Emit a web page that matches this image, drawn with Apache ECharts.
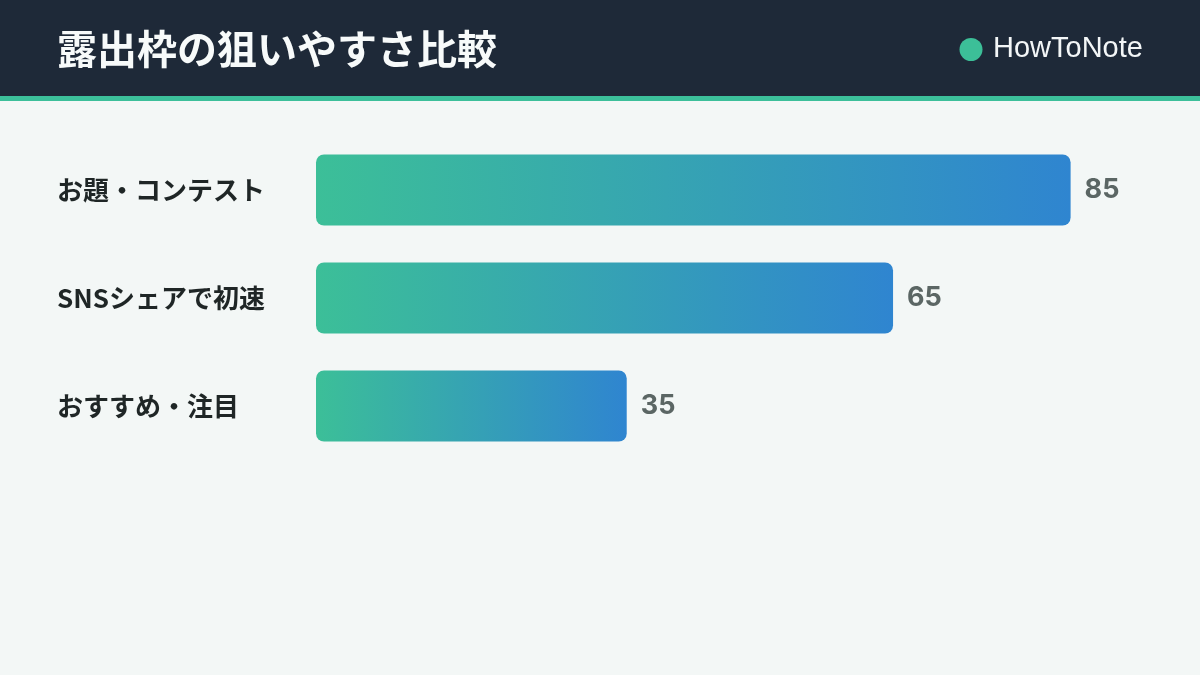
<!DOCTYPE html>
<html>
<head>
<meta charset="utf-8">
<script src="https://cdn.jsdelivr.net/npm/echarts@6/dist/echarts.min.js"></script>
<style>
html,body{margin:0;padding:0;background:#f3f7f6;}
#c{width:1200px;height:675px;}
</style>
</head>
<body>
<div id="c"></div>
<script>
const titleText = '露出枠の狙いやすさ比較';
const brandText = 'HowToNote';
const categories = ['お題・コンテスト', 'SNSシェアで初速', 'おすすめ・注目'];
const values = [85, 65, 35];

const chart = echarts.init(document.getElementById('c'), null, {renderer: 'canvas'});
const cjk = '"Noto Sans CJK JP", "Noto Sans", sans-serif';
const latin = '"Liberation Sans", Arial, sans-serif';
const inter = 'Inter, "Noto Sans", sans-serif';

const option = {
  backgroundColor: '#f3f7f6',
  animation: false,
  grid: {left: 316, right: 85, top: 136, height: 324},
  xAxis: {
    type: 'value', min: 0, max: 90,
    show: false
  },
  yAxis: {
    type: 'category', data: categories, inverse: true,
    axisLine: {show: false}, axisTick: {show: false}, splitLine: {show: false},
    axisLabel: {
      align: 'left', margin: 259,
      fontFamily: cjk, fontWeight: 'bold', fontSize: 26, color: '#1f2626',
      padding: [0, 0, 10, 0]
    }
  },
  series: [{
    type: 'bar',
    data: values,
    barWidth: 71,
    itemStyle: {
      borderRadius: 8,
      color: new echarts.graphic.LinearGradient(0, 0, 1, 0, [
        {offset: 0, color: '#3cbf98'},
        {offset: 1, color: '#2f85d0'}
      ])
    },
    label: {
      show: true, position: 'right', distance: 14,
      fontFamily: inter, fontWeight: 'bold', fontSize: 27, color: '#5b6664'
    }
  }],
  graphic: [
    {type: 'rect', left: 0, top: 0, shape: {width: 1200, height: 96}, style: {fill: '#1e2938'}, z: 0},
    {type: 'rect', left: 0, top: 96, shape: {width: 1200, height: 5}, style: {fill: '#3cbf9a'}, z: 0},
    {type: 'text', left: 57, top: 29, style: {text: titleText, fill: '#f7fafa', font: 'bold 40px ' + cjk}, z: 2},
    {type: 'circle', shape: {cx: 971, cy: 49.5, r: 11.5}, style: {fill: '#3cbf98'}, z: 2},
    {type: 'text', left: 993, top: 34, style: {text: brandText, fill: '#f3f6f7', font: '29px ' + latin}, z: 2}
  ]
};
chart.setOption(option);
</script>
</body>
</html>
